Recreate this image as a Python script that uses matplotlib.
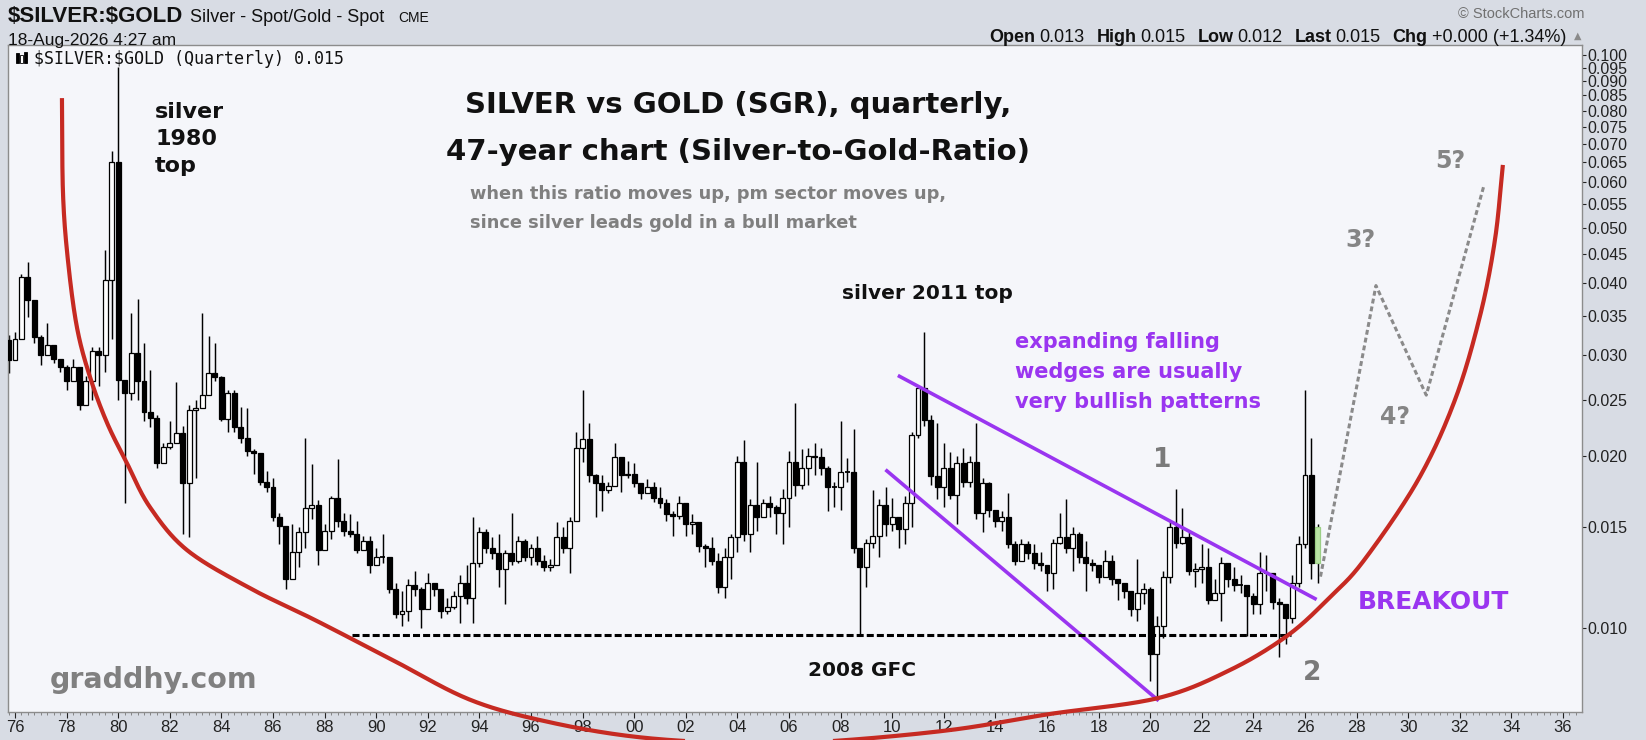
import numpy as np
import matplotlib
matplotlib.use("Agg")
import matplotlib.pyplot as plt
from matplotlib import font_manager
from matplotlib.patches import Rectangle
from matplotlib.ticker import FixedLocator, FixedFormatter, MultipleLocator, NullLocator

# ---------------- data (ratio x 1000), quarterly, first candle = 1975 Q4 ----------------
first_year = 1975.75
first_open_x1000 = 31.8

close_x1000 = [
    29.4,                      # 1975
    32.0, 41.0, 37.3, 32.2,    # 1976
    30.0, 31.2, 29.5, 28.5,    # 1977
    27.0, 28.5, 24.5, 27.0,    # 1978
    30.5, 30.0, 40.5, 65.0,    # 1979
    27.1, 25.7, 30.2, 27.0,    # 1980
    23.8, 23.3, 19.4, 20.7,    # 1981
    21.0, 21.9, 17.9, 24.0,    # 1982
    24.2, 25.5, 27.9, 27.4,    # 1983
    23.2, 25.7, 22.4, 21.5,    # 1984
    20.4, 20.2, 18.0, 17.6,    # 1985
    15.6, 15.1, 12.2, 13.6,    # 1986
    14.7, 16.2, 16.4, 13.7,    # 1987
    14.8, 16.9, 15.4, 14.8,    # 1988
    14.6, 13.7, 14.2, 12.9,    # 1989
    13.3, 13.3, 11.7, 10.6,    # 1990
    10.7, 11.9, 11.7, 10.8,    # 1991
    12.0, 11.7, 10.7, 10.9,    # 1992
    11.4, 12.0, 11.3, 13.0,    # 1993
    14.7, 13.8, 13.5, 12.7,    # 1994
    13.5, 13.1, 14.2, 13.3,    # 1995
    13.8, 13.1, 12.8, 12.9,    # 1996
    14.4, 13.8, 15.4, 20.6,    # 1997
    21.4, 18.5, 17.9, 17.4,    # 1998
    17.7, 19.9, 18.5, 18.6,    # 1999
    17.9, 17.2, 17.6, 16.9,    # 2000
    16.5, 15.8, 15.7, 16.5,    # 2001
    15.2, 15.3, 13.9, 13.8,    # 2002
    13.1, 11.8, 13.3, 14.4,    # 2003
    19.5, 14.6, 16.4, 15.6,    # 2004
    16.5, 16.3, 15.9, 16.9,    # 2005
    19.5, 17.8, 19.0, 20.0,    # 2006
    19.9, 19.0, 17.6, 17.6,    # 2007
    18.7, 18.7, 13.8, 12.8,    # 2008
    14.1, 14.5, 16.4, 15.2,    # 2009
    15.6, 14.9, 16.5, 21.7,    # 2010
    26.2, 23.1, 18.4, 17.6,    # 2011
    19.0, 17.1, 19.4, 18.0,    # 2012
    19.5, 15.9, 17.9, 16.1,    # 2013
    15.4, 15.6, 14.0, 13.1,    # 2014
    14.0, 13.5, 13.0, 12.9,    # 2015
    12.5, 14.1, 14.4, 13.8,    # 2016
    14.6, 13.3, 13.0, 12.9,    # 2017
    12.3, 13.1, 12.2, 12.0,    # 2018
    11.6, 10.8, 11.5, 11.7,    # 2019
    9.0, 10.1, 12.3, 15.0,     # 2020
    14.1, 14.4, 12.6, 12.7,    # 2021
    12.8, 11.2, 11.5, 13.0,    # 2022
    12.2, 11.9, 11.9, 11.4,    # 2023
    11.0, 12.5, 12.5, 11.1,    # 2024
    11.0, 10.4, 12.0, 14.0,    # 2025
    18.5, 13.0, 15.0,          # 2026
]

high_x1000 = [
    32.5,
    32.8, 41.5, 43.5, 33.0,
    32.5, 34.1, 30.0, 29.0,
    28.8, 29.5, 26.2, 27.5,
    31.0, 31.0, 45.6, 68.0,
    95.3, 27.1, 35.5, 37.5,
    31.4, 28.2, 23.5, 21.0,
    23.0, 26.9, 22.5, 24.5,
    25.0, 35.5, 32.4, 31.4,
    27.5, 26.0, 26.0, 24.3,
    24.2, 20.5, 19.6, 18.8,
    18.3, 15.9, 13.5, 15.2,
    15.0, 21.5, 19.3, 16.7,
    15.2, 17.0, 19.7, 15.9,
    15.8, 15.4, 14.5, 14.5,
    13.8, 14.6, 12.9, 12.0,
    11.6, 12.2, 12.6, 11.8,
    12.5, 12.0, 11.6, 11.3,
    11.6, 12.4, 12.9, 15.6,
    15.0, 14.9, 14.4, 14.6,
    13.7, 15.9, 14.5, 14.3,
    14.0, 14.5, 13.4, 13.2,
    15.3, 15.0, 15.6, 22.0,
    26.0, 22.8, 18.6, 18.5,
    18.0, 21.0, 18.8, 19.6,
    19.4, 17.8, 18.2, 18.0,
    17.6, 16.8, 16.0, 17.0,
    16.0, 15.8, 15.0, 14.0,
    14.4, 13.5, 13.8, 14.6,
    20.0, 21.3, 16.8, 19.5,
    16.8, 17.0, 16.4, 17.5,
    20.4, 24.7, 20.5, 20.6,
    21.0, 20.6, 19.2, 18.0,
    23.0, 19.8, 22.3, 13.8,
    14.3, 17.4, 16.8, 17.6,
    16.9, 15.5, 17.0, 22.0,
    26.5, 32.9, 23.5, 22.8,
    21.0, 20.3, 20.0, 20.6,
    20.0, 22.8, 18.3, 18.0,
    16.0, 16.0, 17.2, 14.2,
    14.3, 14.2, 14.0, 13.6,
    12.8, 14.3, 15.9, 16.8,
    15.0, 14.7, 14.2, 13.2,
    12.9, 13.7, 13.4, 12.2,
    12.0, 11.2, 13.2, 12.0,
    11.8, 10.5, 12.6, 15.4,
    17.5, 16.2, 14.8, 13.0,
    14.0, 13.8, 12.2, 13.3,
    13.0, 12.8, 12.4, 11.8,
    11.5, 13.6, 13.4, 12.0,
    11.3, 11.0, 12.4, 14.5,
    26.0, 21.5, 15.2,
]

low_x1000 = [
    27.9,
    31.0, 32.0, 34.9, 31.5,
    28.8, 30.5, 29.0, 28.0,
    26.0, 28.0, 24.0, 25.5,
    25.0, 26.5, 28.0, 32.0,
    25.0, 16.5, 25.0, 25.0,
    23.0, 22.4, 19.0, 19.5,
    20.5, 21.5, 14.6, 14.4,
    18.3, 25.0, 25.5, 27.0,
    23.0, 22.0, 22.0, 21.0,
    20.0, 18.6, 17.8, 17.3,
    15.4, 14.0, 11.7, 13.0,
    12.8, 13.8, 15.5, 12.9,
    14.0, 14.3, 15.0, 14.5,
    14.4, 13.5, 13.8, 12.5,
    12.9, 13.0, 11.5, 10.4,
    10.1, 10.3, 11.4, 10.0,
    10.8, 11.4, 10.4, 10.6,
    10.8, 10.2, 11.0, 10.2,
    12.8, 13.5, 13.2, 11.8,
    11.0, 12.9, 13.0, 13.1,
    12.9, 12.9, 12.6, 12.6,
    13.2, 13.5, 12.5, 16.1,
    19.5, 18.0, 15.6, 16.0,
    17.2, 18.8, 17.3, 18.3,
    17.6, 16.8, 17.2, 16.6,
    16.2, 15.4, 14.5, 15.5,
    14.5, 14.6, 13.6, 12.8,
    12.9, 11.5, 11.3, 12.2,
    13.6, 14.2, 13.6, 14.8,
    15.6, 15.6, 14.6, 14.0,
    15.0, 17.0, 17.5, 17.8,
    18.5, 18.5, 16.0, 16.3,
    16.1, 18.0, 13.5, 9.7,
    11.8, 13.8, 13.3, 14.5,
    14.8, 13.8, 14.0, 15.0,
    21.5, 22.5, 17.8, 16.8,
    16.3, 16.8, 15.2, 17.6,
    17.6, 15.5, 14.7, 15.6,
    15.0, 14.8, 13.8, 12.9,
    13.1, 13.2, 12.7, 12.6,
    11.6, 11.7, 14.0, 13.5,
    12.6, 13.0, 11.6, 12.6,
    12.0, 12.5, 11.9, 11.2,
    11.3, 10.5, 10.3, 11.0,
    8.1, 7.5, 9.6, 12.0,
    13.8, 14.0, 12.4, 11.8,
    12.0, 11.0, 11.2, 10.3,
    11.8, 11.6, 11.5, 9.7,
    10.6, 10.6, 11.6, 10.8,
    8.9, 9.4, 10.2, 11.8,
    13.8, 12.2, 12.0,
]

y_ticks = [0.010, 0.015, 0.020, 0.025, 0.030, 0.035, 0.040, 0.045, 0.050, 0.055,
           0.060, 0.065, 0.070, 0.075, 0.080, 0.085, 0.090, 0.095, 0.100]
x_tick_years = list(range(1976, 2037, 2))

# annotation guides (year, ratio)
cup_years = [1977.82, 1977.86, 1978.05, 1978.40, 1978.91, 1979.57, 1980.34, 1981.23, 1982.67,
             1985.11, 1987.63, 1990.65, 1993.67, 1996.74, 2000.22, 2004.10, 2007.59, 2012.24,
             2016.08, 2020.30, 2023.09, 2025.34, 2026.97, 2028.29, 2030.38, 2031.81, 2032.78,
             2033.36, 2033.67]
cup_vals = [0.0841, 0.0574, 0.0439, 0.0335, 0.0274, 0.0228, 0.0194, 0.01626, 0.01368,
            0.01174, 0.01033, 0.00879, 0.00749, 0.00685, 0.00645, 0.00630, 0.00635, 0.00664,
            0.00708, 0.00755, 0.00845, 0.00972, 0.01133, 0.01314, 0.01813, 0.0250, 0.0350,
            0.0475, 0.0643]
wedge_upper_years = [2010.22, 2026.45]
wedge_upper_vals = [0.0276, 0.01122]
wedge_lower_years = [2009.74, 2020.33]
wedge_lower_vals = [0.0189, 0.00747]
support_years = [1989.06, 2025.45]
support_vals = [0.00972, 0.00972]
projection_years = [2026.6, 2028.75, 2030.7, 2032.94]
projection_vals = [0.0123, 0.0396, 0.0255, 0.0593]

# ---------------- figure ----------------
W, H = 1646, 740
fig = plt.figure(figsize=(W / 100, H / 100), dpi=100)
fig.patch.set_facecolor('#d8dce4')

def fx(x):
    return x / W

def fy(y):
    return 1 - y / H

AX_L, AX_R, AX_T, AX_B = 8, 1582, 45, 712
ax = fig.add_axes([fx(AX_L), fy(AX_B), (AX_R - AX_L) / W, (AX_B - AX_T) / H])
ax.set_facecolor('#f5f6fa')
ax.set_yscale('log')

px_per_year = 25.8
x_left = 1976 + (AX_L - 15) / px_per_year
x_right = 1976 + (AX_R - 15) / px_per_year
ax.set_xlim(x_left, x_right)
ax.set_ylim(0.00714, 0.1041)

closes = np.array(close_x1000) / 1000.0
highs = np.array(high_x1000) / 1000.0
lows = np.array(low_x1000) / 1000.0
opens = np.concatenate([[first_open_x1000 / 1000.0], closes[:-1]])
n = len(closes)
tpos = first_year + 0.25 * np.arange(n)
highs = np.maximum(highs, np.maximum(opens, closes))
lows = np.minimum(lows, np.minimum(opens, closes))

bw = 0.19
ax.vlines(tpos, lows, highs, color='black', lw=1.05, zorder=2)
for i in range(n):
    o, c = opens[i], closes[i]
    lo, hi = min(o, c), max(o, c)
    if i == n - 1:
        fc, ec = '#b9e4a4', '#9ccf86'
    elif c >= o:
        fc, ec = 'white', 'black'
    else:
        fc, ec = 'black', 'black'
    if hi - lo < 1e-7:
        ax.hlines(c, tpos[i] - bw / 2, tpos[i] + bw / 2, color=ec, lw=1.3, zorder=3)
    else:
        ax.add_patch(Rectangle((tpos[i] - bw / 2, lo), bw, hi - lo, facecolor=fc,
                               edgecolor=ec, lw=0.9, zorder=3))

# ---------------- annotation lines ----------------
def smooth_path(xs, ys, sx=px_per_year, sy=573.0, npts=40):
    P = np.column_stack([np.array(xs) * sx, np.log10(np.array(ys)) * sy])
    P = np.vstack([2 * P[0] - P[1], P, 2 * P[-1] - P[-2]])
    out = []
    t = np.linspace(0, 1, npts, endpoint=False)[:, None]
    for i in range(1, len(P) - 2):
        p0, p1, p2, p3 = P[i - 1], P[i], P[i + 1], P[i + 2]
        seg = 0.5 * ((2 * p1) + (-p0 + p2) * t + (2 * p0 - 5 * p1 + 4 * p2 - p3) * t ** 2
                     + (-p0 + 3 * p1 - 3 * p2 + p3) * t ** 3)
        out.append(seg)
    out.append(P[-2][None, :])
    Q = np.vstack(out)
    return Q[:, 0] / sx, 10 ** (Q[:, 1] / sy)

cx, cy = smooth_path(cup_years, cup_vals)
ax.plot(cx, cy, color='#c62a22', lw=3.0, solid_capstyle='butt', zorder=6, clip_on=False)

purple = '#9a35f0'
ax.plot(wedge_upper_years, wedge_upper_vals, color=purple, lw=2.6, zorder=5, solid_capstyle='butt')
ax.plot(wedge_lower_years, wedge_lower_vals, color=purple, lw=2.6, zorder=5, solid_capstyle='butt')
ax.plot(support_years, support_vals, color='black', lw=2.2, linestyle=(0, (2.3, 1.0)), zorder=5)
ax.plot(projection_years, projection_vals, color='#8a8a8a', lw=2.2, linestyle=(0, (1.6, 1.0)), zorder=5)

# ---------------- axes styling ----------------
for sp in ax.spines.values():
    sp.set_color('#8c8c8c')
    sp.set_linewidth(1.0)

ax.yaxis.set_major_locator(FixedLocator(y_ticks))
ax.yaxis.set_major_formatter(FixedFormatter(['%.3f' % v for v in y_ticks]))
ax.yaxis.set_minor_locator(NullLocator())
ax.tick_params(axis='y', which='major', left=False, labelleft=False, right=True, labelright=True,
               direction='out', length=3, width=0.8, pad=1, labelsize=11.5, colors='#222222')
ax.xaxis.set_major_locator(FixedLocator(x_tick_years))
ax.xaxis.set_major_formatter(FixedFormatter(['%02d' % (y % 100) for y in x_tick_years]))
ax.xaxis.set_minor_locator(MultipleLocator(0.25))
ax.tick_params(axis='x', which='major', direction='out', length=4, width=0.8, pad=2,
               labelsize=12, colors='#222222')
ax.tick_params(axis='x', which='minor', direction='out', length=2, width=0.6, colors='#777777')
for lab in ax.get_xticklabels() + ax.get_yticklabels():
    lab.set_family('Liberation Sans')

# ---------------- texts ----------------
def ftext(x, y, s, **kw):
    kw.setdefault('va', 'center')
    kw.setdefault('ha', 'left')
    return fig.text(fx(x), fy(y), s, **kw)

def has_font(name):
    try:
        font_manager.findfont(font_manager.FontProperties(family=name), fallback_to_default=False)
        return True
    except Exception:
        return False

bold = dict(fontweight='bold', family='DejaVu Sans')
for s, yy in [('silver', 112), ('1980', 139), ('top', 166)]:
    ftext(155, yy, s, fontsize=16, color='#111111', zorder=10, **bold)

ftext(738, 105, 'SILVER vs GOLD (SGR), quarterly,', ha='center', fontsize=21, color='#111111', **bold)
ftext(738, 152, '47-year chart (Silver-to-Gold-Ratio)', ha='center', fontsize=21, color='#111111', **bold)
ftext(470, 194, 'when this ratio moves up, pm sector moves up,', fontsize=12.8, color='#7f7f7f', **bold)
ftext(470, 223, 'since silver leads gold in a bull market', fontsize=12.8, color='#7f7f7f', **bold)
ftext(842, 293, 'silver 2011 top', fontsize=14.5, color='#111111', **bold)
for s, yy in [('expanding falling', 342), ('wedges are usually', 372), ('very bullish patterns', 402)]:
    ftext(1015, yy, s, fontsize=15, color=purple, **bold)
ftext(1162, 460, '1', ha='center', fontsize=19, color='#7a7a7a', **bold)
ftext(1312, 673, '2', ha='center', fontsize=19, color='#7a7a7a', **bold)
ftext(1360, 240, '3?', ha='center', fontsize=17, color='#858585', **bold)
ftext(1395, 417, '4?', ha='center', fontsize=17, color='#858585', **bold)
ftext(1450, 161, '5?', ha='center', fontsize=17, color='#858585', **bold)
ftext(1358, 602, 'BREAKOUT', fontsize=18, color=purple, **bold)

if has_font('Liberation Sans Narrow'):
    ftext(862, 670, '2008 GFC', ha='center', fontsize=17, color='#111111',
          fontweight='bold', family='Liberation Sans Narrow')
    ftext(48, 679, 'graddhy.com', fontsize=28, color='#808080',
          fontweight='bold', family='Liberation Sans Narrow')
else:
    ftext(862, 670, '2008 GFC', ha='center', fontsize=14.5, color='#111111', **bold)
    ftext(50, 680, 'graddhy.com', fontsize=20.5, color='#808080', **bold)

# header
lib = ['Liberation Sans', 'DejaVu Sans']
ftext(8, 16, r'\$SILVER:\$GOLD', fontsize=16, fontweight='bold', family=lib, color='#111111')
ftext(190, 17, 'Silver - Spot/Gold - Spot', fontsize=13, family=lib, color='#111111')
ftext(398, 18, 'CME', fontsize=10, family=lib, color='#111111')
ftext(8, 40, '18-Aug-2026 4:27 am', fontsize=12.5, family=lib, color='#111111')
ftext(1584, 14, '\u00a9 StockCharts.com', ha='right', fontsize=10.5, family=lib, color='#707070')

renderer = fig.canvas.get_renderer()
segs = [('Open', 'bold', 4), ('0.013', 'normal', 12), ('High', 'bold', 4), ('0.015', 'normal', 12),
        ('Low', 'bold', 4), ('0.012', 'normal', 12), ('Last', 'bold', 4), ('0.015', 'normal', 12),
        ('Chg', 'bold', 4), ('+0.000 (+1.34%)', 'normal', 0)]
objs = []
total = 0
for s, w, gap in segs:
    t = fig.text(0, 0, s, fontsize=13, fontweight=w, family=lib, va='center', ha='left', color='#111111')
    wd = t.get_window_extent(renderer=renderer).width
    objs.append((t, wd, gap))
    total += wd + gap
xcur = 1566 - total
for t, wd, gap in objs:
    t.set_position((fx(xcur), fy(37)))
    xcur += wd + gap
ftext(1578, 36, '\u25b2', ha='center', fontsize=7, family='DejaVu Sans', color='#8a8a8a')

# in-plot label with tiny candle icon
for (x0, y0, h0, filled) in [(16, 53, 10, True), (20, 55, 8, False), (24, 52, 11, True)]:
    fig.add_artist(Rectangle((fx(x0), fy(y0 + h0)), 3 / W, h0 / H, transform=fig.transFigure,
                             facecolor='black' if filled else 'white', edgecolor='black', lw=0.6, zorder=10))
ftext(34, 59, r'\$SILVER:\$GOLD (Quarterly) 0.015', fontsize=12, family='DejaVu Sans Mono', color='#111111')

fig.savefig('out.png', dpi=100, facecolor=fig.get_facecolor())
